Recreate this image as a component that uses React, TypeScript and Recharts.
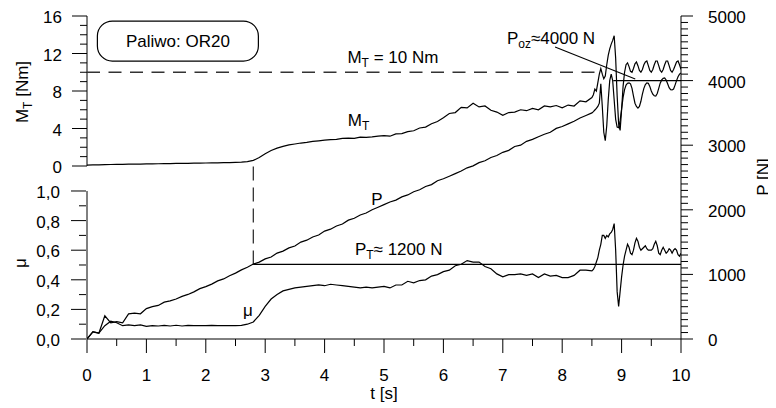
import React from 'react';
import { ComposedChart, Line, XAxis, YAxis, ReferenceLine, ReferenceDot } from 'recharts';

const FONT = '"Liberation Sans", Arial, sans-serif';

// sample times [s]: 0.1 s steps up to 8.4, then 0.025 s through the seizure
const T_COARSE = [
  0, 0.1, 0.2, 0.3, 0.4, 0.5, 0.6, 0.7, 0.8, 0.9,
  1, 1.1, 1.2, 1.3, 1.4, 1.5, 1.6, 1.7, 1.8, 1.9,
  2, 2.1, 2.2, 2.3, 2.4, 2.5, 2.6, 2.7, 2.8, 2.9,
  3, 3.1, 3.2, 3.3, 3.4, 3.5, 3.6, 3.7, 3.8, 3.9,
  4, 4.1, 4.2, 4.3, 4.4, 4.5, 4.6, 4.7, 4.8, 4.9,
  5, 5.1, 5.2, 5.3, 5.4, 5.5, 5.6, 5.7, 5.8, 5.9,
  6, 6.1, 6.2, 6.3, 6.4, 6.5, 6.6, 6.7, 6.8, 6.9,
  7, 7.1, 7.2, 7.3, 7.4, 7.5, 7.6, 7.7, 7.8, 7.9,
  8, 8.1, 8.2, 8.3, 8.4,
];
const T_FINE = [
  8.5, 8.525, 8.55, 8.575, 8.6, 8.625, 8.65, 8.675, 8.7, 8.725,
  8.75, 8.775, 8.8, 8.825, 8.85, 8.875, 8.9, 8.925, 8.95, 8.975,
  9, 9.025, 9.05, 9.075, 9.1, 9.125, 9.15, 9.175, 9.2, 9.225,
  9.25, 9.275, 9.3, 9.325, 9.35, 9.375, 9.4, 9.425, 9.45, 9.475,
  9.5, 9.525, 9.55, 9.575, 9.6, 9.625, 9.65, 9.675, 9.7, 9.725,
  9.75, 9.775, 9.8, 9.825, 9.85, 9.875, 9.9, 9.925, 9.95, 9.975,
  10,
];

// friction torque M_T [Nm]
const MT_COARSE = [
  0.10, 0.12, 0.13, 0.15, 0.16, 0.17, 0.18, 0.19, 0.20, 0.21,
  0.22, 0.23, 0.24, 0.25, 0.26, 0.27, 0.28, 0.29, 0.30, 0.31,
  0.32, 0.33, 0.34, 0.35, 0.37, 0.39, 0.42, 0.47, 0.60, 0.90,
  1.30, 1.65, 1.90, 2.10, 2.25, 2.35, 2.45, 2.52, 2.62, 2.68,
  2.75, 2.82, 2.84, 2.95, 2.98, 2.94, 3.08, 3.06, 3.10, 3.18,
  3.24, 3.18, 3.42, 3.46, 3.66, 3.76, 4.05, 4.15, 4.50, 4.75,
  5.15, 5.60, 5.70, 6.25, 6.20, 6.70, 6.30, 6.40, 5.95, 5.75,
  5.40, 5.70, 5.75, 6.00, 5.90, 6.15, 6.00, 6.40, 6.30, 6.45,
  6.20, 6.50, 6.40, 6.95, 6.85,
];
const MT_FINE = [
  7.30, 7.60, 8.20, 8.00, 8.90, 9.80, 10.40, 9.80, 9.30, 9.60,
  10.80, 11.80, 12.50, 13.00, 13.40, 13.90, 11.50, 7.50, 4.50, 3.80,
  6.00, 8.50, 10.00, 10.80, 11.00, 10.60, 10.10, 10.00, 10.40, 10.90,
  11.10, 10.70, 10.20, 10.00, 10.30, 10.80, 11.10, 11.20, 10.70, 10.20,
  10.00, 10.30, 10.80, 11.20, 11.20, 10.70, 10.20, 10.00, 10.30, 10.80,
  11.20, 11.20, 10.70, 10.20, 10.00, 10.30, 10.70, 11.10, 11.20, 10.80,
  10.30,
];

// load P [N]
const P_COARSE = [
  0, 110, 90, 360, 250, 270, 250, 390, 400, 390,
  470, 500, 520, 570, 590, 620, 660, 690, 730, 780,
  810, 850, 900, 930, 980, 1020, 1070, 1110, 1160, 1190,
  1240, 1270, 1330, 1360, 1410, 1440, 1500, 1530, 1580, 1610,
  1670, 1700, 1750, 1780, 1840, 1870, 1920, 1950, 2000, 2040,
  2080, 2120, 2150, 2200, 2230, 2280, 2310, 2360, 2390, 2450,
  2480, 2520, 2560, 2600, 2650, 2680, 2730, 2760, 2810, 2840,
  2890, 2920, 2980, 3000, 3060, 3090, 3130, 3170, 3200, 3260,
  3290, 3330, 3370, 3420, 3460,
];
const P_FINE = [
  3500, 3520, 3545, 3570, 3600, 3650, 3950, 3600, 3200, 3070,
  3300, 3700, 4000, 4100, 4000, 3700, 3400, 3280, 3270, 3380,
  3560, 3740, 3860, 3930, 3960, 3965, 3950, 3880, 3760, 3650,
  3600, 3575, 3600, 3680, 3790, 3880, 3940, 3965, 3960, 3910,
  3840, 3790, 3765, 3760, 3800, 3880, 3960, 4010, 4035, 4040,
  4010, 3950, 3890, 3860, 3855, 3870, 3930, 4000, 4060, 4100,
  4118,
];

// friction coefficient mu
const MU_COARSE = [
  0.00, 0.05, 0.04, 0.09, 0.12, 0.11, 0.09, 0.095, 0.09, 0.095,
  0.085, 0.09, 0.088, 0.092, 0.088, 0.093, 0.088, 0.092, 0.09, 0.09,
  0.09, 0.092, 0.09, 0.09, 0.091, 0.09, 0.092, 0.10, 0.115, 0.16,
  0.22, 0.27, 0.30, 0.325, 0.335, 0.345, 0.35, 0.355, 0.36, 0.365,
  0.36, 0.37, 0.365, 0.36, 0.355, 0.35, 0.345, 0.35, 0.345, 0.35,
  0.355, 0.345, 0.365, 0.365, 0.39, 0.38, 0.395, 0.40, 0.425, 0.435,
  0.455, 0.465, 0.495, 0.505, 0.53, 0.52, 0.52, 0.49, 0.475, 0.44,
  0.42, 0.435, 0.435, 0.44, 0.43, 0.44, 0.415, 0.44, 0.425, 0.43,
  0.415, 0.415, 0.43, 0.465, 0.465,
];
const MU_FINE = [
  0.46, 0.47, 0.49, 0.52, 0.55, 0.60, 0.64, 0.70, 0.70, 0.68,
  0.70, 0.69, 0.71, 0.72, 0.74, 0.78, 0.60, 0.32, 0.22, 0.32,
  0.42, 0.50, 0.56, 0.60, 0.64, 0.62, 0.58, 0.57, 0.60, 0.65,
  0.68, 0.66, 0.62, 0.60, 0.61, 0.62, 0.63, 0.61, 0.60, 0.60,
  0.60, 0.61, 0.64, 0.66, 0.63, 0.58, 0.57, 0.60, 0.62, 0.60,
  0.58, 0.59, 0.61, 0.60, 0.58, 0.60, 0.61, 0.60, 0.57, 0.56,
  0.58,
];

const X_TICKS = [0, 0.5, 1, 1.5, 2, 2.5, 3, 3.5, 4, 4.5, 5, 5.5, 6, 6.5, 7, 7.5, 8, 8.5, 9, 9.5, 10];
const MT_TICKS = [0, 1, 2, 3, 4, 5, 6, 7, 8, 9, 10, 11, 12, 13, 14, 15, 16];
const MU_TICKS = [0, 0.1, 0.2, 0.3, 0.4, 0.5, 0.6, 0.7, 0.8, 0.9, 1.0];
const P_TICKS = [
  0, 100, 200, 300, 400, 500, 600, 700, 800, 900,
  1000, 1100, 1200, 1300, 1400, 1500, 1600, 1700, 1800, 1900,
  2000, 2100, 2200, 2300, 2400, 2500, 2600, 2700, 2800, 2900,
  3000, 3100, 3200, 3300, 3400, 3500, 3600, 3700, 3800, 3900,
  4000, 4100, 4200, 4300, 4400, 4500, 4600, 4700, 4800, 4900,
  5000,
];

const T = [...T_COARSE, ...T_FINE];
const MT = [...MT_COARSE, ...MT_FINE];
const P = [...P_COARSE, ...P_FINE];
const MU = [...MU_COARSE, ...MU_FINE];
const rows = T.map((t, i) => ({ t, mt: MT[i], p: P[i], mu: MU[i] }));

const txt = { fontSize: 17, fontFamily: FONT, fill: '#000' };

const XTick = ({ x, y, payload }: any) => {
  const major = Number.isInteger(payload.value);
  return (
    <g>
      <line x1={x} x2={x} y1={y} y2={y + (major ? 14 : 7)} stroke="#000" />
      {major && <text x={x} y={y + 42} textAnchor="middle" {...txt}>{payload.value}</text>}
    </g>
  );
};

const MtTick = ({ x, y, payload }: any) => {
  const major = payload.value % 4 === 0;
  return (
    <g>
      <line x1={x - (major ? 15 : 7)} x2={x} y1={y} y2={y} stroke="#000" />
      {major && <text x={x - 25} y={y + 7} textAnchor="end" {...txt}>{payload.value}</text>}
    </g>
  );
};

const MuTick = ({ x, y, payload }: any) => {
  const major = Math.round(payload.value * 10) % 2 === 0;
  return (
    <g>
      <line x1={x - (major ? 15 : 7)} x2={x} y1={y} y2={y} stroke="#000" />
      {major && (
        <text x={x - 26} y={y + 7} textAnchor="end" {...txt}>
          {payload.value.toFixed(1).replace('.', ',')}
        </text>
      )}
    </g>
  );
};

const PTick = ({ x, y, payload }: any) => {
  const major = payload.value % 1000 === 0;
  return (
    <g>
      <line x1={x} x2={x + (major ? 12 : 7)} y1={y} y2={y} stroke="#000" />
      {major && <text x={x + 27} y={y + 7} textAnchor="start" {...txt}>{payload.value}</text>}
    </g>
  );
};

const sub = (s: string) => (
  <tspan dy={4} fontSize={12}>{s}</tspan>
);

export default function App() {
  return (
    <div style={{ position: 'relative', width: 768, height: 398 }}>
      <ComposedChart width={760} height={398} data={rows} margin={{ top: 8, right: 86, bottom: 66, left: 77 }}>
        <XAxis
          dataKey="t"
          type="number"
          domain={[0, 10]}
          allowDataOverflow
          ticks={X_TICKS}
          interval={0}
          height={1}
          tickSize={0}
          tickMargin={0}
          tickLine={false}
          tick={<XTick />}
          axisLine={{ stroke: '#000' }}
        />
        <YAxis
          yAxisId="mt"
          type="number"
          domain={[-18.4533, 16]}
          allowDataOverflow
          ticks={MT_TICKS}
          interval={0}
          width={1}
          tickSize={0}
          tickMargin={0}
          tickLine={false}
          axisLine={false}
          tick={<MtTick />}
        />
        <YAxis
          yAxisId="mu"
          type="number"
          domain={[0, 2.1824]}
          allowDataOverflow
          ticks={MU_TICKS}
          interval={0}
          width={1}
          tickSize={0}
          tickMargin={0}
          tickLine={false}
          axisLine={false}
          tick={<MuTick />}
        />
        <YAxis
          yAxisId="p"
          orientation="right"
          type="number"
          domain={[0, 5000]}
          allowDataOverflow
          ticks={P_TICKS}
          interval={0}
          width={1}
          tickSize={0}
          tickMargin={0}
          tickLine={false}
          axisLine={{ stroke: '#000' }}
          tick={<PTick />}
        />

        {/* left axis spines, split into M_T part and mu part */}
        <ReferenceLine yAxisId="mt" segment={[{ x: 0, y: 0 }, { x: 0, y: 16 }]} stroke="#000" />
        <ReferenceLine yAxisId="mu" segment={[{ x: 0, y: 0 }, { x: 0, y: 1 }]} stroke="#000" />

        {/* guide lines */}
        <ReferenceLine yAxisId="mt" segment={[{ x: 0, y: 10 }, { x: 8.66, y: 10 }]} stroke="#333" strokeWidth={1.3} strokeDasharray="13 8.5" />
        <ReferenceLine yAxisId="p" segment={[{ x: 2.8, y: 1155 }, { x: 2.8, y: 2770 }]} stroke="#333" strokeWidth={1.3} strokeDasharray="14 7" />
        <ReferenceLine yAxisId="p" segment={[{ x: 2.8, y: 1155 }, { x: 10, y: 1155 }]} stroke="#000" strokeWidth={1.2} />
        <ReferenceLine yAxisId="p" segment={[{ x: 8.86, y: 4000 }, { x: 10, y: 4000 }]} stroke="#000" strokeWidth={1.2} />
        <ReferenceLine yAxisId="p" segment={[{ x: 7.88, y: 4521 }, { x: 9.23, y: 4025 }]} stroke="#000" strokeWidth={1.1} />

        <Line yAxisId="mt" dataKey="mt" type="linear" stroke="#000" strokeWidth={1.2} dot={false} isAnimationActive={false} />
        <Line yAxisId="p" dataKey="p" type="linear" stroke="#000" strokeWidth={1.2} dot={false} isAnimationActive={false} />
        <Line yAxisId="mu" dataKey="mu" type="linear" stroke="#000" strokeWidth={1.2} dot={false} isAnimationActive={false} />

        {/* annotations */}
        <ReferenceDot
          yAxisId="mt" x={1.53} y={13.33} r={0}
          shape={(p: any) => (
            <g>
              <rect x={p.cx - 80.5} y={p.cy - 20} width={161} height={40} rx={15} fill="#fff" stroke="#000" strokeWidth={1.2} />
              <text x={p.cx} y={p.cy + 6} textAnchor="middle" {...txt}>Paliwo: OR20</text>
            </g>
          )}
        />
        <ReferenceDot
          yAxisId="mt" x={5.15} y={10.99} r={0}
          shape={(p: any) => (
            <text x={p.cx} y={p.cy} textAnchor="middle" {...txt}>
              M{sub('T')}<tspan dy={-4}> = 10 Nm</tspan>
            </text>
          )}
        />
        <ReferenceDot
          yAxisId="mt" x={4.39} y={4.27} r={0}
          shape={(p: any) => (
            <text x={p.cx} y={p.cy} textAnchor="start" {...txt}>M{sub('T')}</text>
          )}
        />
        <ReferenceDot
          yAxisId="p" x={4.88} y={2074} r={0}
          shape={(p: any) => (
            <text x={p.cx} y={p.cy} textAnchor="middle" {...txt}>P</text>
          )}
        />
        <ReferenceDot
          yAxisId="p" x={4.51} y={1300} r={0}
          shape={(p: any) => (
            <text x={p.cx} y={p.cy} textAnchor="start" {...txt}>
              P{sub('T')}<tspan dy={-4}>{'\u2248 1200 N'}</tspan>
            </text>
          )}
        />
        <ReferenceDot
          yAxisId="mu" x={2.71} y={0.155} r={0}
          shape={(p: any) => (
            <text x={p.cx} y={p.cy} textAnchor="middle" {...txt}>{'\u03bc'}</text>
          )}
        />
        <ReferenceDot
          yAxisId="p" x={7.07} y={4567} r={0}
          shape={(p: any) => (
            <text x={p.cx} y={p.cy} textAnchor="start" {...txt}>
              P{sub('oz')}<tspan dy={-4}>{'\u22484000 N'}</tspan>
            </text>
          )}
        />
      </ComposedChart>

      {/* axis titles */}
      <svg width={768} height={398} style={{ position: 'absolute', left: 0, top: 0, pointerEvents: 'none' }}>
        <text transform="translate(20,84) rotate(-90)" textAnchor="middle" {...txt}>
          M{sub('T')}<tspan dy={-4}> [Nm]</tspan>
        </text>
        <text transform="translate(18,255) rotate(-90)" textAnchor="middle" {...txt}>{'\u03bc'}</text>
        <text transform="translate(761,169) rotate(-90)" textAnchor="middle" {...txt}>P [N]</text>
        <text x={376} y={391} textAnchor="middle" {...txt}>t [s]</text>
      </svg>
    </div>
  );
}
